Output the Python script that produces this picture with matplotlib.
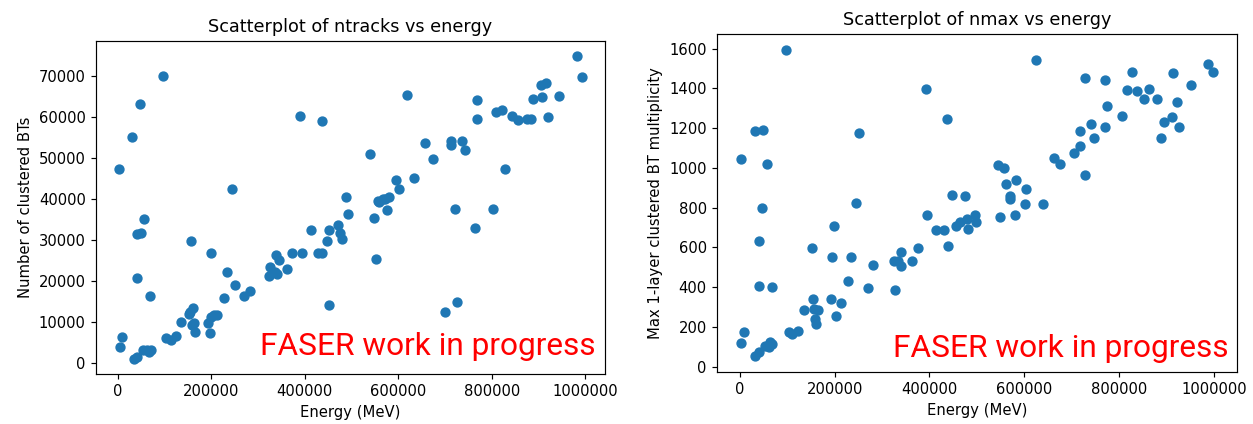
import numpy as np
import matplotlib.pyplot as plt

# ntracks vs energy (left panel)
energy_a = [3400, 31900, 48900, 97900, 244700, 390000, 436800, 489400,
            56600, 42500, 51000, 156000, 200000, 42500, 68700, 234000,
            250200, 270800, 283600, 226800, 8500, 5500, 35300, 42500,
            54500, 63800, 72300, 67200, 102800, 113400, 124000, 136200,
            154500, 161700, 152300, 163000, 166600, 159600, 197000, 192800,
            200000, 207000, 212800, 326200, 336800, 324700, 340400, 339000,
            346000, 361700, 373600, 394300, 412800, 429000, 437400, 446800,
            451700, 471500, 476600, 480000, 451700, 492800,
            982300, 992800, 618300, 768000, 768000, 809800, 821300, 843800,
            856000, 874500, 884300, 888700, 907700, 906400, 916200, 920400,
            943200, 540400, 658100, 675100, 712800, 712800, 736200, 742600,
            829400, 595700, 602800, 634700, 558700, 567200, 580000,
            556600, 570900, 576600, 547400, 553200, 721900, 803400, 764500,
            699400, 725500]
ntracks = [47400, 55200, 63300, 70000, 42600, 60400, 59200, 40600,
           35100, 31500, 31900, 29900, 27000, 20700, 16500, 22200,
           19100, 16500, 17700, 15900, 6400, 4000, 1100, 1600,
           3200, 3200, 3200, 2800, 6200, 5800, 6600, 10200,
           12500, 13400, 12100, 9900, 7600, 9400, 7400, 9900,
           11300, 11700, 11800, 23400, 22300, 21400, 21800, 26400,
           25200, 23000, 27000, 27000, 32500, 26800, 27000, 29900,
           32500, 33700, 31900, 30400, 14300, 36300,
           74900, 69700, 65500, 64100, 59600, 61400, 61800, 60200,
           59400, 59600, 59600, 64500, 65000, 67900, 68300, 60000,
           65200, 51100, 53700, 49900, 54100, 53200, 54100, 51900,
           47300, 44600, 42600, 45100, 39300, 40000, 40600,
           39600, 40000, 37400, 35500, 25400, 37700, 37700, 32900,
           12500, 15000]

# nmax vs energy (right panel)
energy_b = [97100, 392800, 437800, 31700, 48600, 250500, 2100, 58300,
            447700, 474300, 47700, 245000, 40800, 198500, 153300, 40800,
            67600, 195600, 235100, 280000, 228700, 271000, 327300, 325900,
            340000, 340000, 363200, 376600, 332900, 394900, 413900, 431500,
            455000, 465000, 478000, 495000, 498000, 481000, 438400,
            155400, 135800, 156900, 166000, 160500, 158500, 192200, 213300,
            202700, 104100, 111100, 123800, 9100, 2100, 31700, 40800,
            53400, 63400, 68900, 61900,
            623600, 727200, 769400, 825800, 913600, 987500, 998100, 815200,
            836300, 861700, 851800, 878600, 950400, 920800, 773000, 806000,
            769400, 741300, 716600, 746800, 718000, 703900, 894000, 910200,
            926300, 887600, 661700, 674300, 727200, 544000, 556700, 560300,
            582900, 570200, 602500, 600400, 639100, 549100, 579300, 568700]
nmax = [1595, 1395, 1246, 1184, 1192, 1177, 1043, 1020,
        863, 857, 800, 825, 630, 707, 596, 408,
        400, 551, 551, 512, 433, 395, 386, 534,
        576, 509, 534, 596, 534, 761, 690, 690,
        707, 730, 745, 765, 730, 692, 606,
        341, 286, 291, 287, 215, 240, 341, 321,
        254, 176, 165, 181, 176, 119, 52, 76,
        106, 126, 113, 98,
        1545, 1453, 1444, 1483, 1475, 1525, 1483, 1394,
        1387, 1395, 1349, 1349, 1419, 1332, 1310, 1263,
        1206, 1219, 1184, 1152, 1108, 1075, 1231, 1256,
        1206, 1152, 1051, 1018, 966, 1013, 1001, 917,
        937, 861, 895, 816, 816, 753, 764, 845]

fig = plt.figure(figsize=(1253 / 106, 424 / 106), dpi=106)

ax1 = fig.add_axes([96 / 1253, 50 / 424, 509 / 1253, 333 / 424])
ax1.scatter(energy_a, ntracks)
ax1.set_title("Scatterplot of ntracks vs energy")
ax1.set_xlabel("Energy (MeV)")
ax1.set_ylabel("Number of clustered BTs")
ax1.ticklabel_format(style='plain')
ax1.text(0.982, 0.057, "FASER work in progress", transform=ax1.transAxes,
         ha='right', va='baseline', color='red', fontsize=21.5, family='Roboto')

ax2 = fig.add_axes([717 / 1253, 52.3 / 424, 520 / 1253, 337.4 / 424])
ax2.scatter(energy_b, nmax)
ax2.set_title("Scatterplot of nmax vs energy")
ax2.set_xlabel("Energy (MeV)")
ax2.set_ylabel("Max 1-layer clustered BT multiplicity")
ax2.ticklabel_format(style='plain')
ax2.text(0.983, 0.044, "FASER work in progress", transform=ax2.transAxes,
         ha='right', va='baseline', color='red', fontsize=21.5, family='Roboto')

fig.savefig("out.png", dpi=106)
